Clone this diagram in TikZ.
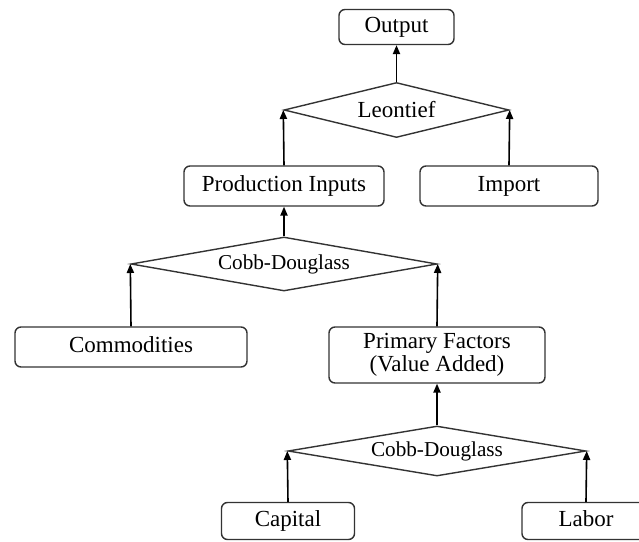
\documentclass[tikz,border=0pt]{standalone}
\usepackage{fontspec}
\setmainfont{Liberation Serif}
\usetikzlibrary{arrows.meta, shapes.geometric}

\begin{document}
\begin{tikzpicture}[
        x=0.5pt, y=-0.5pt,
        every node/.style={font=\fontsize{11.5}{10}\selectfont, align=center},
        block/.style={draw=black!80, rounded corners=3pt, line width=0.7pt, inner sep=0pt, text depth=0.22em},
        gate/.style={draw=black!80, diamond, aspect=6, line width=0.7pt, inner sep=0pt},
        arrow/.style={-{Triangle[length=4.5pt, width=3.6pt]}, line width=0.8pt}
        ]
    \useasboundingbox (0,0) rectangle (639,542);

    % Top level: Leontief
    \node[block, minimum width=57.5pt, minimum height=17.5pt] (Output) at (396.5,27) {Output};
    \node[gate, aspect=4, minimum width=112.5pt, minimum height=27.5pt] (Leontief) at (396.5,110) {Leontief};
    \node[block, minimum width=100pt, minimum height=20pt] (Prod_inputs) at (284,186) {Production Inputs};
    \node[block, minimum width=89pt, minimum height=20pt] (Import) at (509,186) {Import};

    % Middle level: Cobb-Douglass for inputs
    \node[gate, minimum width=153pt, minimum height=27pt, font=\fontsize{10.6}{12}\selectfont] (CD_inputs) at (284,264) {Cobb-Douglass};
    \node[block, minimum width=116pt, minimum height=20pt] (Commodities) at (131,347) {Commodities};
    \node[block, minimum width=108pt, minimum height=28pt] (Primary) at (437,355) {Primary Factors\\(Value Added)};

    % Bottom level: Cobb-Douglass for factors
    \node[gate, minimum width=149pt, minimum height=25pt, font=\fontsize{10.6}{12}\selectfont] (CD_factors) at (437,451) {Cobb-Douglass};
    \node[block, minimum width=66.5pt, minimum height=18.5pt] (Capital) at (288,521) {Capital};
    \node[block, minimum width=64pt, minimum height=18.5pt] (Labor) at (586,521) {Labor};

    % Connect the nodes
    \draw[arrow] (Leontief.north) -- (Output.south);
    \draw[arrow] (Prod_inputs.north) -- (Leontief.west);
    \draw[arrow] (Import.north) -- (Leontief.east);
    \draw[arrow] (CD_inputs.north) -- (Prod_inputs.south);
    \draw[arrow] (Commodities.north) -- (CD_inputs.west);
    \draw[arrow] (Primary.north) -- (CD_inputs.east);
    \draw[arrow] (CD_factors.north) -- (Primary.south);
    \draw[arrow] (Capital.north) -- (CD_factors.west);
    \draw[arrow] (Labor.north) -- (CD_factors.east);

\end{tikzpicture}
\end{document}
